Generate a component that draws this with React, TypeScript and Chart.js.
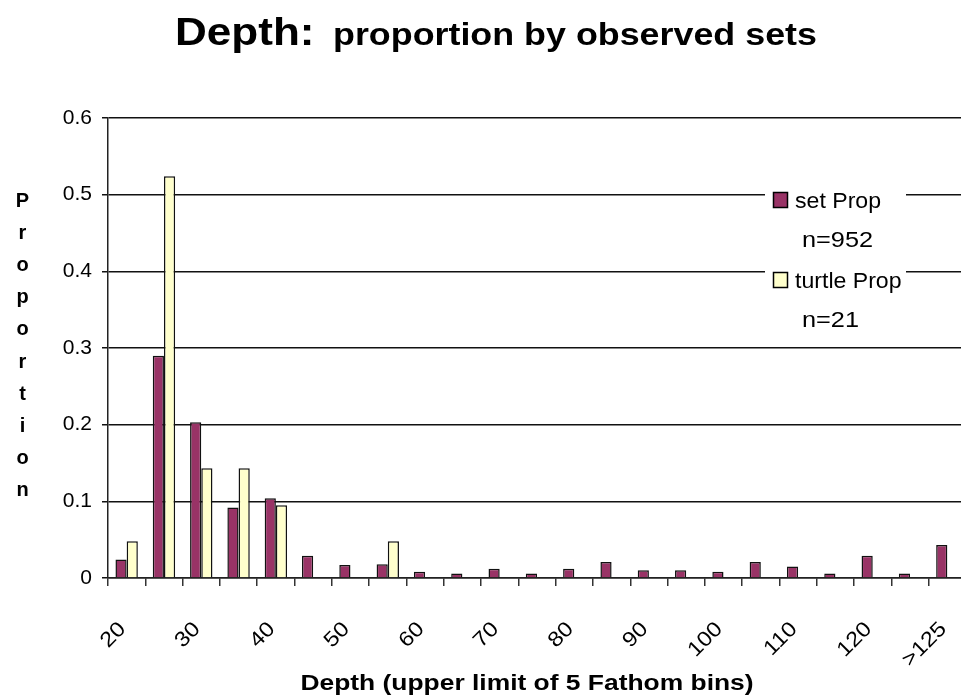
import React, { useEffect, useRef } from 'react';
import { Chart, registerables } from 'chart.js';

Chart.register(...registerables);

const categories = ['20', '25', '30', '35', '40', '45', '50', '55', '60', '65', '70', '75', '80', '85', '90', '95', '100', '105', '110', '115', '120', '125', '>125'];
const xTickLabels = ['20', '', '30', '', '40', '', '50', '', '60', '', '70', '', '80', '', '90', '', '100', '', '110', '', '120', '', '>125'];
const setProp = [0.024, 0.290, 0.203, 0.092, 0.104, 0.029, 0.017, 0.018, 0.008, 0.006, 0.012, 0.006, 0.012, 0.021, 0.010, 0.010, 0.008, 0.021, 0.015, 0.006, 0.029, 0.006, 0.043];
const turtleProp = [0.048, 0.524, 0.143, 0.143, 0.095, null, null, 0.048, null, null, null, null, null, null, null, null, null, null, null, null, null, null, null];
const seriesNames = ['set Prop', 'turtle Prop'];
const seriesCounts = ['n=952', 'n=21'];
const seriesColors = ['#993366', '#FFFFCC'];
const yMin = 0;
const yMax = 0.6;
const yStep = 0.1;
const titleMain = 'Depth:';
const titleSub = 'proportion by observed sets';
const xTitle = 'Depth (upper limit of 5 Fathom bins)';
const yTitle = 'Proportion';

const FONT = '"Liberation Sans", Arial, sans-serif';

const decorPlugin = {
  id: 'decor',
  afterDraw(chart: any) {
    const ctx = chart.ctx as CanvasRenderingContext2D;
    ctx.save();
    ctx.fillStyle = '#000';

    const stretched = (text: string, x: number, y: number, font: string, sx: number, align: CanvasTextAlign = 'left') => {
      ctx.save();
      ctx.font = font;
      ctx.textAlign = align;
      ctx.textBaseline = 'alphabetic';
      ctx.translate(x, y);
      ctx.scale(sx, 1);
      ctx.fillText(text, 0, 0);
      ctx.restore();
    };

    // Title
    stretched(titleMain, 175, 45, `bold 39px ${FONT}`, 1.13);
    stretched(titleSub, 333, 45, `bold 32px ${FONT}`, 1.12);

    // X axis title
    stretched(xTitle, 527, 690, `bold 22px ${FONT}`, 1.2, 'center');

    // Y axis title (stacked letters)
    ctx.font = `bold 20px ${FONT}`;
    ctx.textAlign = 'center';
    ctx.textBaseline = 'alphabetic';
    yTitle.split('').forEach((ch, i) => {
      ctx.fillText(ch, 22.5, 207 + i * 32.1);
    });

    // X tick labels (rotated)
    const xs = chart.scales.x;
    ctx.font = `21px ${FONT}`;
    ctx.textAlign = 'right';
    ctx.textBaseline = 'middle';
    xTickLabels.forEach((lab, i) => {
      if (!lab) return;
      const px = xs.getPixelForTick(i);
      ctx.save();
      ctx.translate(px - 4, 626);
      ctx.rotate(-Math.PI / 4);
      ctx.scale(1.12, 1);
      ctx.fillText(lab, 0, 0);
      ctx.restore();
    });

    // Legend
    ctx.fillStyle = '#fff';
    ctx.fillRect(765, 184, 141, 112);
    const rows = [200, 280];
    seriesNames.forEach((name, i) => {
      const cy = rows[i];
      ctx.fillStyle = seriesColors[i];
      ctx.fillRect(773, cy - 8, 15, 16);
      ctx.strokeStyle = '#000';
      ctx.lineWidth = 1.5;
      ctx.strokeRect(773.5, cy - 7.5, 14, 15);
      ctx.fillStyle = '#000';
      stretched(name, 795, cy + 7.5, `22px ${FONT}`, 1.05);
      stretched(seriesCounts[i], 802, cy + 47, `22px ${FONT}`, 1.15);
    });

    ctx.restore();
  },
};

export default function App() {
  const canvasRef = useRef<HTMLCanvasElement | null>(null);

  useEffect(() => {
    document.body.style.margin = '0';
    document.body.style.overflow = 'hidden';
    const canvas = canvasRef.current;
    if (!canvas) return;
    const chart = new Chart(canvas, {
      type: 'bar',
      data: {
        labels: categories,
        datasets: [
          {
            label: seriesNames[0],
            data: setProp,
            backgroundColor: seriesColors[0],
            borderColor: '#111',
            borderWidth: 1.5,
            categoryPercentage: 0.6,
            barPercentage: 1,
          },
          {
            label: seriesNames[1],
            data: turtleProp as any,
            backgroundColor: seriesColors[1],
            borderColor: '#111',
            borderWidth: 1.5,
            categoryPercentage: 0.6,
            barPercentage: 1,
          },
        ],
      },
      options: {
        responsive: false,
        animation: false,
        devicePixelRatio: 1,
        layout: { padding: { left: 0, right: 10, top: 118, bottom: 0 } },
        plugins: {
          legend: { display: false },
          title: { display: false },
          tooltip: { enabled: false },
        },
        scales: {
          x: {
            grid: { offset: true, drawOnChartArea: false, drawTicks: true, tickLength: 8, color: '#333', lineWidth: 1.5 },
            border: { display: true, color: '#222', width: 1.5 },
            ticks: { display: false, autoSkip: false },
            afterFit: (s: any) => {
              s.height = 122;
            },
          },
          y: {
            min: yMin,
            max: yMax,
            ticks: {
              stepSize: yStep,
              color: '#000',
              font: { size: 21, family: FONT },
              padding: 10,
            },
            grid: { color: '#111', lineWidth: 1.5, tickLength: 6, drawTicks: true },
            border: { display: true, color: '#222', width: 1.5 },
            afterFit: (s: any) => {
              s.width = 108;
            },
          },
        },
      },
      plugins: [decorPlugin],
    });
    return () => chart.destroy();
  }, []);

  return (
    <div style={{ position: 'fixed', left: 0, top: 0, width: 976, height: 700, overflow: 'hidden', background: '#fff' }}>
      <canvas ref={canvasRef} width={976} height={700} style={{ width: 976, height: 700, display: 'block' }} />
    </div>
  );
}
